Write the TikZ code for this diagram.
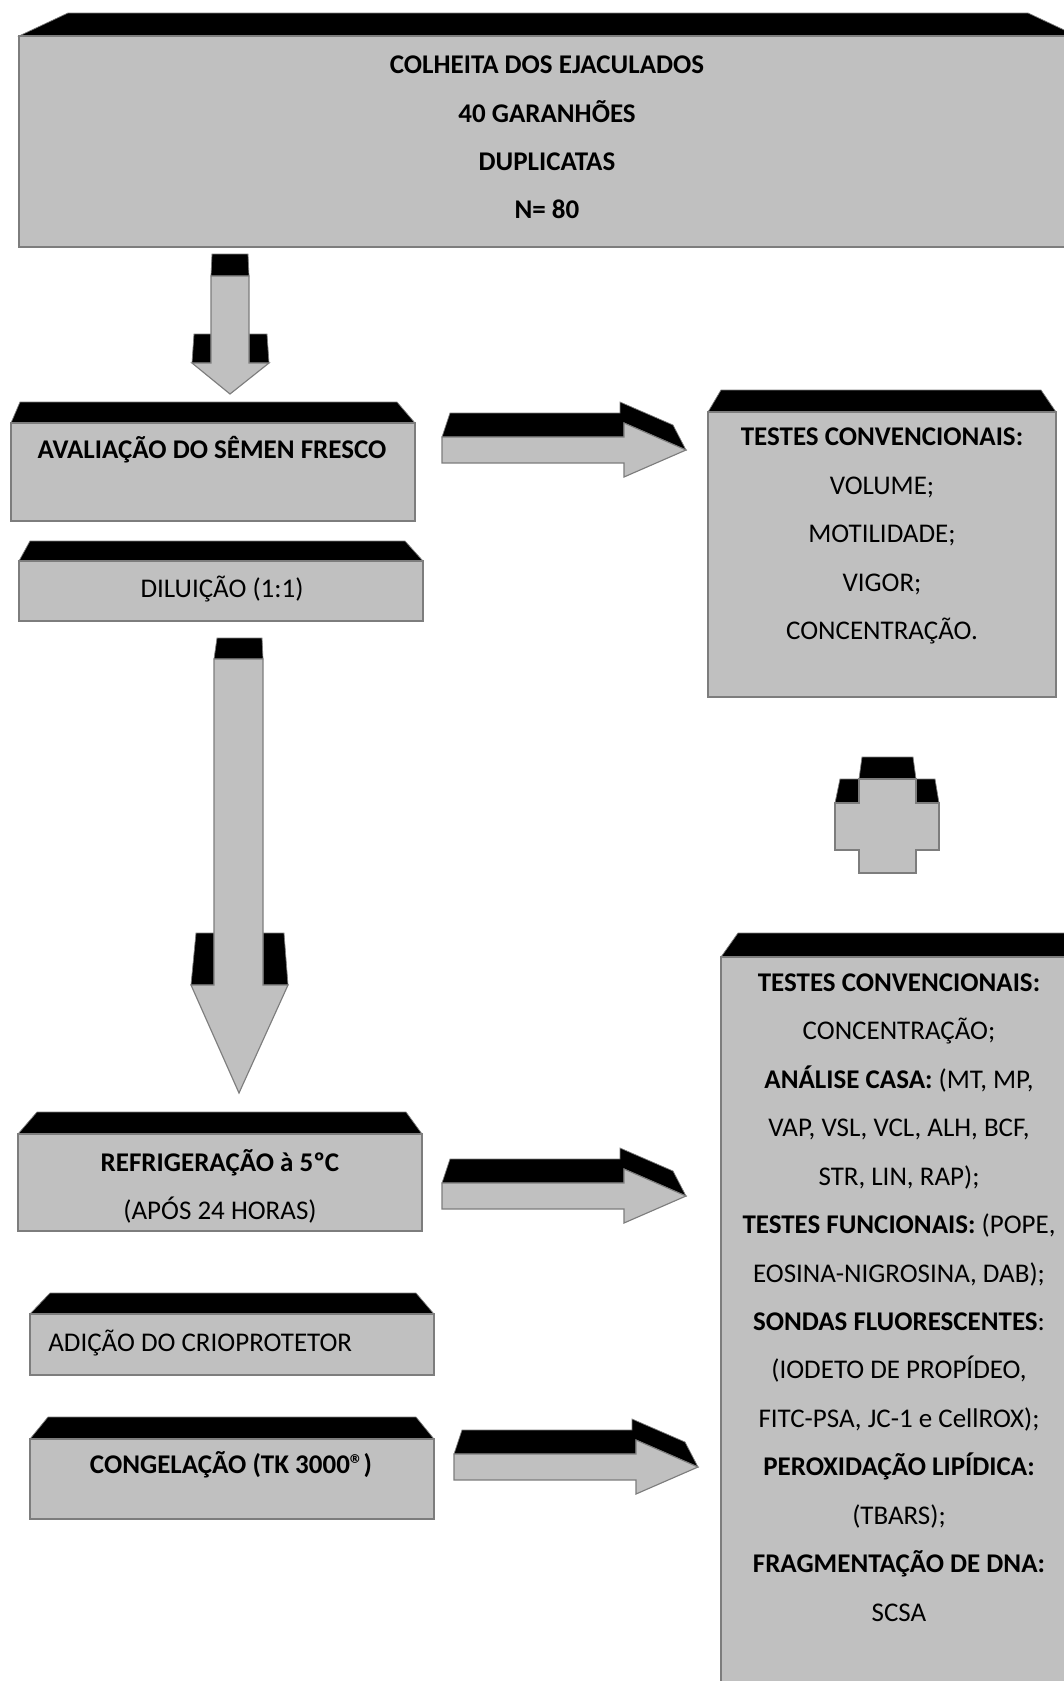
\documentclass[tikz,border=0pt]{standalone}
\usepackage{fontspec}
\setmainfont{Carlito}
\definecolor{boxgray}{RGB}{192,192,192}
\definecolor{edgegray}{RGB}{125,125,125}

\begin{document}
\begin{tikzpicture}[x=0.7pt, y=-0.7pt,
		box/.style={fill=boxgray, draw=edgegray, line width=0.8pt},
		lid/.style={fill=black, draw=edgegray, line width=0.5pt},
		txt/.style={inner sep=0pt, align=center, font=\fontsize{18.9}{33.9}\selectfont},
		btxt/.style={txt, font=\fontsize{18.9}{33.9}\selectfont\bfseries},
	]
		\useasboundingbox (0,0) rectangle (1064,1681);
		\clip (0,0) rectangle (1064,1681);

		% boxes
		\draw[lid] (19,36) -- (68,13) -- (1028,13) -- (1077,36) -- cycle;
		\draw[box] (19,36) rectangle (1077,247);
		\node[btxt] (colheita) at (547,137.5) {COLHEITA DOS EJACULADOS\\40 GARANHÕES\\DUPLICATAS\\N= 80};

		\draw[lid] (11,423) -- (20,402) -- (397,402) -- (415,423) -- cycle;
		\draw[box] (11,423) rectangle (415,521);
		\node[btxt, anchor=base] (fresco) at (212,458) {AVALIAÇÃO DO SÊMEN FRESCO};

		\draw[lid] (19,561) -- (30,541) -- (405,541) -- (423,561) -- cycle;
		\draw[box] (19,561) rectangle (423,621);
		\node[txt, anchor=base] (diluicao) at (222,597) {DILUIÇÃO (1:1)};

		\draw[lid] (708,412) -- (721,390) -- (1041,390) -- (1056,412) -- cycle;
		\draw[box] (708,412) rectangle (1056,697);
		\node[txt] (testes) at (882,536) {\textbf{TESTES CONVENCIONAIS:}\\VOLUME;\\MOTILIDADE;\\VIGOR;\\CONCENTRAÇÃO.};

		\draw[lid] (721,957) -- (738,933) -- (1090,933) -- (1100,957) -- cycle;
		\draw[box] (721,957) rectangle (1100,1700);
		\node[txt] (analises) at (899,1297.5) {\textbf{TESTES CONVENCIONAIS:}\\CONCENTRAÇÃO;\\
			\textbf{ANÁLISE CASA:} (MT, MP,\\VAP, VSL, VCL, ALH, BCF,\\STR, LIN, RAP);\\
			\textbf{TESTES FUNCIONAIS:} (POPE,\\EOSINA-NIGROSINA, DAB);\\
			\textbf{SONDAS FLUORESCENTES}:\\(IODETO DE PROPÍDEO,\\FITC-PSA, JC-1 e CellROX);\\
			\textbf{PEROXIDAÇÃO LIPÍDICA:}\\(TBARS);\\\textbf{FRAGMENTAÇÃO DE DNA:}\\SCSA};

		\draw[lid] (18,1134) -- (37,1112) -- (406,1112) -- (422,1134) -- cycle;
		\draw[box] (18,1134) rectangle (422,1231);
		\node[txt] (refrig) at (220,1186.5) {\textbf{REFRIGERAÇÃO à 5ºC}\\(APÓS 24 HORAS)};

		\draw[lid] (30,1314) -- (50,1293) -- (416,1293) -- (434,1314) -- cycle;
		\draw[box] (30,1314) rectangle (434,1375);
		\node[txt, anchor=base west] (crio) at (48,1351) {ADIÇÃO DO CRIOPROTETOR};

		\draw[lid] (30,1439) -- (48,1417) -- (416,1417) -- (434,1439) -- cycle;
		\draw[box] (30,1439) rectangle (434,1519);
		\node[btxt, anchor=base] (congel) at (231,1473) {CONGELAÇÃO (TK 3000®)};

		% down arrows
		\draw[lid] (212,254) -- (248,254) -- (249,276) -- (211,276) -- cycle;
		\draw[lid] (194,334) -- (211,334) -- (211,363) -- (192,363) -- cycle;
		\draw[lid] (249,334) -- (267,334) -- (269,363) -- (249,363) -- cycle;
		\draw[box] (211,276) -- (249,276) -- (249,363) -- (269,363) -- (230,394) -- (192,363) -- (211,363) -- cycle;

		\draw[lid] (217,638) -- (262,638) -- (263,659) -- (214,659) -- cycle;
		\draw[lid] (196,933) -- (214,933) -- (214,985) -- (191,985) -- cycle;
		\draw[lid] (263,933) -- (284,933) -- (288,985) -- (263,985) -- cycle;
		\draw[box] (214,659) -- (263,659) -- (263,985) -- (288,985) -- (239,1093) -- (191,985) -- (214,985) -- cycle;

		% right arrows
		\draw[lid] (442,437) -- (450,413) -- (620,413) -- (620,402) -- (673,425) -- (686,450) -- (624,423) -- (624,437) -- cycle;
		\draw[box] (442,437) -- (624,437) -- (624,423) -- (686,450) -- (624,477) -- (624,463) -- (442,463) -- cycle;

		\draw[lid, shift={(0,746)}] (442,437) -- (450,413) -- (620,413) -- (620,402) -- (673,425) -- (686,450) -- (624,423) -- (624,437) -- cycle;
		\draw[box, shift={(0,746)}] (442,437) -- (624,437) -- (624,423) -- (686,450) -- (624,477) -- (624,463) -- (442,463) -- cycle;

		\draw[lid, shift={(12,1017)}] (442,437) -- (450,413) -- (620,413) -- (620,402) -- (673,425) -- (686,450) -- (624,423) -- (624,437) -- cycle;
		\draw[box, shift={(12,1017)}] (442,437) -- (624,437) -- (624,423) -- (686,450) -- (624,477) -- (624,463) -- (442,463) -- cycle;

		% cross
		\draw[lid] (862,757) -- (913,757) -- (916,779) -- (859,779) -- cycle;
		\draw[lid] (840,779) -- (859,779) -- (859,803) -- (835,803) -- cycle;
		\draw[lid] (916,779) -- (935,779) -- (939,803) -- (916,803) -- cycle;
		\draw[box] (859,779) -- (916,779) -- (916,803) -- (939,803) -- (939,850) -- (916,850)
			-- (916,873) -- (859,873) -- (859,850) -- (835,850) -- (835,803) -- (859,803) -- cycle;
	\end{tikzpicture}
\end{document}
